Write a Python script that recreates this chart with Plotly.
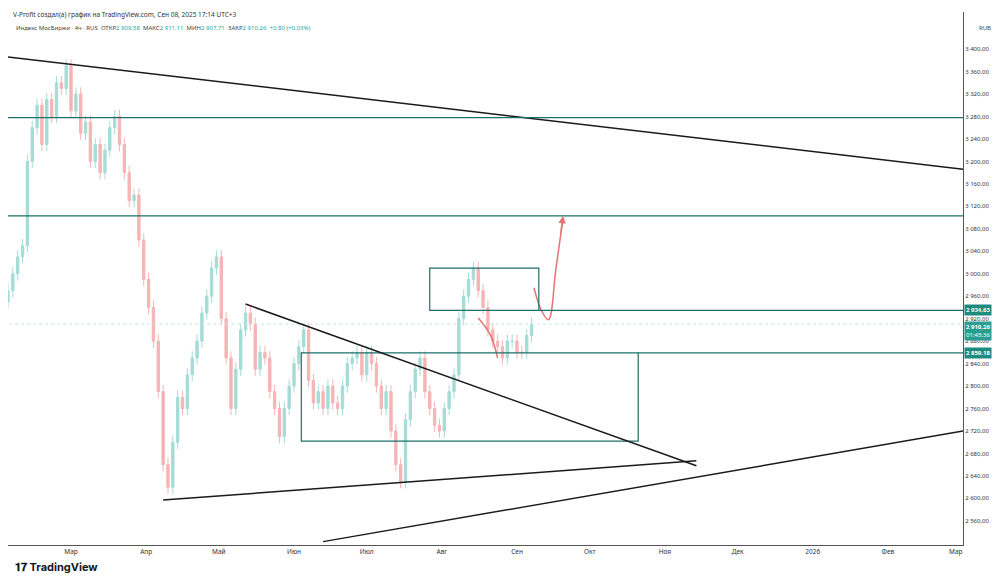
import plotly.graph_objects as go
import pandas as pd

closes = [2970,3000,3030,3050,3200,3260,3300,3230,3310,3280,3340,3330,3370,3290,3320,3250,3270,3200,3230,3180,
          3220,3260,3280,3230,3180,3130,3140,3060,2990,2940,2880,2790,2660,2620,2700,2780,2760,2820,2850,2880,
          2930,2960,3010,3030,2920,2850,2760,2830,2900,2930,2910,2830,2860,2850,2790,2760,2710,2760,2800,2840,
          2870,2900,2810,2770,2790,2760,2800,2770,2760,2800,2840,2850,2860,2820,2860,2840,2800,2760,2790,2720,
          2660,2630,2740,2790,2830,2850,2790,2760,2730,2720,2760,2790,2820,2920,2960,2990,3010,2970,2940,2900,
          2880,2870,2850,2880,2880,2860,2860,2890,2910]
dates = pd.date_range("2025-02-03", periods=len(closes), freq="2D")
opens = [closes[0] - 20] + closes[:-1]
wick = 12
highs = [max(o, c) + wick for o, c in zip(opens, closes)]
lows = [min(o, c) - wick for o, c in zip(opens, closes)]

tick_dates = ["2025-03-01","2025-04-01","2025-05-01","2025-06-01","2025-07-01","2025-08-01","2025-09-01",
              "2025-10-01","2025-11-01","2025-12-01","2026-01-01","2026-02-01","2026-03-01"]
tick_text = ["Мар","Апр","Май","Июн","Июл","Авг","Сен","Окт","Ноя","Дек","2026","Фев","Мар"]
price_ticks = list(range(2560, 3401, 40))

fig = go.Figure()
fig.add_trace(go.Candlestick(x=dates, open=opens, high=highs, low=lows, close=closes,
    increasing=dict(line=dict(color="#a6dcd6", width=1), fillcolor="#a6dcd6"),
    decreasing=dict(line=dict(color="#f5b5b5", width=1), fillcolor="#f5b5b5"),
    whiskerwidth=0, showlegend=False))

fig.add_trace(go.Scatter(x=["2025-08-16","2025-08-21","2025-08-24"], y=[2921,2891,2850],
    mode="lines", line=dict(color="#e57373", width=1.5, shape="spline"), showlegend=False))
fig.add_trace(go.Scatter(x=["2025-09-08","2025-09-11","2025-09-14","2025-09-17","2025-09-20"],
    y=[2975,2935,2918,3007,3099],
    mode="lines", line=dict(color="#e57373", width=1.5, shape="spline"), showlegend=False))
fig.add_annotation(x="2025-09-20", y=3103, ax="2025-09-19", ay=3070, axref="x", ayref="y",
    showarrow=True, arrowhead=2, arrowcolor="#e57373", arrowwidth=1.5, text="")

dk = "#1a1a1a"; tl = "#1d6f6a"
shapes = [
    dict(type="line", x0="2025-02-03", y0=3386, x1="2026-03-04", y1=3186, line=dict(color=dk, width=1.5)),
    dict(type="line", x0="2025-02-01", y0=3278, x1="2026-03-07", y1=3278, line=dict(color=tl, width=1.2)),
    dict(type="line", x0="2025-02-01", y0=3103, x1="2026-03-07", y1=3103, line=dict(color=tl, width=1.2)),
    dict(type="line", x0="2025-09-10", y0=2934.63, x1="2026-03-07", y1=2934.63, line=dict(color=tl, width=1.2)),
    dict(type="line", x0="2025-10-21", y0=2859.18, x1="2026-03-07", y1=2859.18, line=dict(color=tl, width=1.2)),
    dict(type="line", x0="2025-02-01", y0=2910.26, x1="2026-03-07", y1=2910.26, line=dict(color="#c5e6e3", width=1, dash="dot")),
    dict(type="rect", x0="2025-07-27", y0=2934.63, x1="2025-09-10", y1=3010, line=dict(color=tl, width=1.2)),
    dict(type="rect", x0="2025-06-04", y0=2702, x1="2025-10-21", y1=2859.18, line=dict(color=tl, width=1.2)),
    dict(type="line", x0="2025-05-12", y0=2946, x1="2025-11-14", y1=2658, line=dict(color=dk, width=1.5)),
    dict(type="line", x0="2025-04-08", y0=2597, x1="2025-11-14", y1=2667, line=dict(color=dk, width=1.5)),
    dict(type="line", x0="2025-06-13", y0=2523, x1="2026-03-04", y1=2720, line=dict(color=dk, width=1.5)),
]
fig.update_layout(shapes=shapes)

def badge(y, text):
    fig.add_annotation(x=1.0, xref="paper", y=y, yref="y", text=text, showarrow=False,
        xanchor="left", xshift=1, font=dict(size=6, color="white", family="Noto Sans"),
        bgcolor="#1e8a80", borderpad=1)
badge(2934.63, "<b>2 934,63</b>")
badge(2859.18, "<b>2 859,18</b>")
fig.add_annotation(x=1.0, xref="paper", y=2898, yref="y", text="<b>2 910,26</b><br>01:45:36", showarrow=False,
    xanchor="left", xshift=1, font=dict(size=6, color="white", family="Noto Sans"), bgcolor="#2a9d92", borderpad=1, align="center")

fig.add_annotation(x=0.003, y=1.0, xref="paper", yref="paper", yanchor="top", yshift=4, showarrow=False,
    text="V-Profit создал(а) график на TradingView.com, Сен 08, 2025 17:14 UTC+3", xanchor="left",
    font=dict(size=6.5, color="#333", family="Noto Sans"))
fig.add_annotation(x=0.006, y=1.0, xref="paper", yref="paper", yanchor="top", yshift=-10, showarrow=False, xanchor="left",
    text="Индекс МосБиржи · 4ч · RUS  ОТКР<span style='color:#26a69a'>2 909,58</span>  МАКС<span style='color:#26a69a'>2 911,11</span>  МИН<span style='color:#26a69a'>2 907,71</span>  ЗАКР<span style='color:#26a69a'>2 910,26</span>  <span style='color:#26a69a'>+0,80 (+0,03%)</span>",
    font=dict(size=6, color="#444", family="Noto Sans"))
fig.add_annotation(x=1.0, xref="paper", y=1.0, yref="paper", xanchor="left", yanchor="top", xshift=14, yshift=-10, showarrow=False,
    text="RUB", font=dict(size=6, color="#444", family="Noto Sans"))
fig.add_annotation(x=0.005, xref="paper", y=-0.025, yref="paper", xanchor="left", yanchor="top", showarrow=False,
    text="<b>𝟏𝟕 TradingView</b>", font=dict(size=11, color="#131722", family="Inter"))

fig.update_layout(
    width=1000, height=585, paper_bgcolor="white", plot_bgcolor="white",
    margin=dict(l=0, r=45, t=4, b=48), separators=", ",
    font=dict(family="Noto Sans", size=8, color="#333"),
    xaxis=dict(type="date", range=["2025-02-03", "2026-03-04"], rangeslider=dict(visible=False),
        tickvals=tick_dates, ticktext=tick_text, showgrid=False, showline=True, linecolor="#555",
        ticks="", tickfont=dict(size=6.5), automargin=False),
    yaxis=dict(side="right", range=[2517, 3466], tickvals=price_ticks, tickformat=",.2f",
        showgrid=False, showline=True, linecolor="#555", ticks="", tickcolor="#888",
        tickfont=dict(size=6), automargin=False),
)
fig.write_html("out.html")
